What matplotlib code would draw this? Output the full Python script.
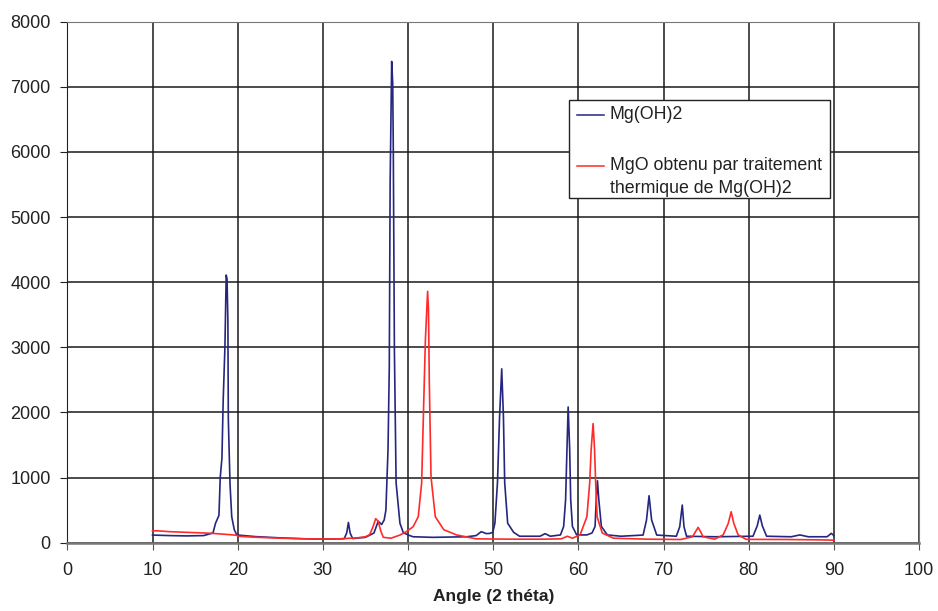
import matplotlib.pyplot as plt
from matplotlib.lines import Line2D
from matplotlib.patches import Rectangle

plt.rcParams['font.family'] = ['Liberation Sans', 'DejaVu Sans']

# Mg(OH)2 diffractogram
mgoh2_angle = [10, 12, 14, 16, 17.1, 17.4, 17.8, 17.95, 18.15, 18.3, 18.5, 18.65, 18.75, 18.85, 18.9,
               19.1, 19.3, 19.6, 19.9, 22, 25, 28, 30, 32.5, 32.8, 33.0, 33.2, 33.5, 35.0, 36.0,
               36.5, 36.9, 37.2, 37.4, 37.65, 37.8, 37.9, 38.08, 38.2, 38.27, 38.4, 38.6, 39.05, 39.45,
               40.2, 40.6, 42.9, 46.9, 48.0, 48.6, 49.2, 49.6, 49.95, 50.2, 50.5, 50.75, 51.0, 51.2,
               51.35, 51.7, 52.4, 53.1, 55.5, 56.1, 56.7, 57.9, 58.27, 58.5, 58.66, 58.8, 58.98, 59.1,
               59.3, 59.8, 61.0, 61.6, 61.96, 62.1, 62.24, 62.4, 62.7, 63.4, 65, 67.6, 68.0, 68.3,
               68.6, 69.2, 71.5, 71.9, 72.2, 72.4, 72.7, 76, 80.5, 81.0, 81.3, 81.6, 82.1, 85,
               86, 87, 89.2, 89.7, 90]
mgoh2_counts = [118, 110, 105, 110, 150, 300, 420, 1000, 1300, 2200, 3000, 4110, 4050, 3400, 1900,
                900, 400, 200, 120, 95, 75, 60, 55, 62, 150, 312, 150, 65, 83, 150,
                330, 280, 350, 500, 1430, 2700, 5530, 7390, 7060, 6040, 2960, 920, 300, 153,
                110, 92, 83, 92, 110, 170, 140, 144, 160, 300, 920, 1940, 2670, 1940,
                920, 300, 160, 100, 100, 140, 100, 120, 250, 660, 1430, 2085, 1430, 660,
                250, 120, 120, 150, 250, 660, 952, 660, 250, 120, 100, 118, 349, 722,
                349, 118, 100, 246, 579, 246, 100, 92, 100, 260, 425, 260, 100, 92,
                120, 92, 92, 144, 110]

# MgO after heat treatment
mgo_angle = [10, 10.5, 12, 14, 16, 17, 18, 19, 19.9, 20, 22, 25, 28, 30, 32, 34, 35.0, 35.5,
             35.9, 36.2, 36.5, 36.8, 37.1, 38, 39.05, 39.8, 40.6, 41.2, 41.6, 41.8, 42.04, 42.3,
             42.4, 42.5, 42.7, 43.2, 44.2, 45.7, 48, 52, 56, 58.0, 58.7, 59.3, 60.2, 61.0,
             61.33, 61.5, 61.73, 61.9, 62.03, 62.2, 62.8, 64.1, 68, 72, 73.4, 73.8, 74.06, 74.3,
             74.65, 76, 77.0, 77.6, 77.94, 78.25, 78.76, 79.7, 84, 88, 90]
mgo_counts = [180, 184, 170, 160, 150, 144, 135, 125, 115, 100, 85, 70, 60, 57, 60, 75, 92, 125,
              250, 370, 330, 180, 83, 70, 118, 170, 246, 400, 920, 1940, 3120, 3860,
              3580, 2450, 1010, 400, 200, 120, 60, 55, 55, 60, 100, 70, 120, 400,
              920, 1430, 1830, 1430, 920, 400, 150, 70, 55, 50, 92, 180, 236, 180,
              92, 55, 120, 298, 476, 298, 120, 52, 50, 45, 40]

x_ticks = list(range(0, 101, 10))
y_ticks = list(range(0, 8001, 1000))

fig = plt.figure(figsize=(9.38, 6.11), dpi=100)
ax = fig.add_axes([0.0718, 0.1117, 0.9080, 0.8528])

ax.plot(mgoh2_angle, mgoh2_counts, color='#262680', lw=1.2)
ax.plot(mgo_angle, mgo_counts, color='#ff2a2a', lw=1.2)

ax.set_xlim(0, 100)
ax.set_ylim(0, 8000)
ax.set_xticks(x_ticks)
ax.set_yticks(y_ticks)
ax.grid(True, color='#1a1a1a', lw=1.1)
ax.set_axisbelow(True)
ax.tick_params(axis='both', labelsize=13, labelcolor='#222222', length=5, direction='out')
ax.tick_params(axis='x', pad=9, color='#555555')
ax.tick_params(axis='y', pad=7, color='#222222')
for s in ['top', 'right']:
    ax.spines[s].set_color('#777777')
ax.spines['left'].set_color('#222222')
ax.spines['bottom'].set_color('#777777')
ax.spines['bottom'].set_linewidth(1.8)

ax.set_xlabel('Angle (2 théta)', fontsize=12.5, fontweight='bold', color='#222222', labelpad=7)

# legend box drawn by hand so the red handle sits on the first text line
ax.add_patch(Rectangle((0.589, 0.662), 0.306, 0.188, transform=ax.transAxes,
                       facecolor='white', edgecolor='#222222', lw=1.0, zorder=5))
ax.add_line(Line2D([0.598, 0.630], [0.8215, 0.8215], transform=ax.transAxes,
                   color='#262680', lw=1.1, zorder=6))
ax.text(0.637, 0.8215, 'Mg(OH)2', transform=ax.transAxes, fontsize=12.8,
        va='center', ha='left', color='#222222', zorder=6)
ax.add_line(Line2D([0.598, 0.630], [0.7236, 0.7236], transform=ax.transAxes,
                   color='#ff2a2a', lw=1.1, zorder=6))
ax.text(0.637, 0.7236, 'MgO obtenu par traitement', transform=ax.transAxes, fontsize=12.8,
        va='center', ha='left', color='#222222', zorder=6)
ax.text(0.637, 0.6800, 'thermique de Mg(OH)2', transform=ax.transAxes, fontsize=12.8,
        va='center', ha='left', color='#222222', zorder=6)

fig.savefig('out.png', dpi=100)
